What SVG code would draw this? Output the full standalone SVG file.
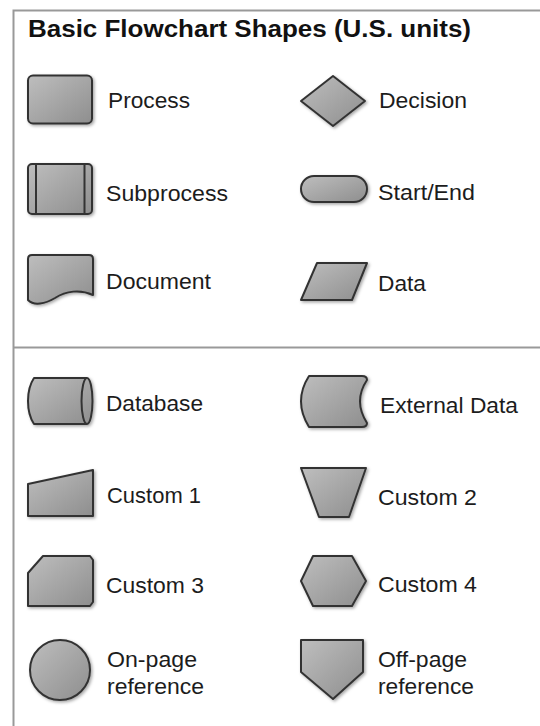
<svg xmlns="http://www.w3.org/2000/svg" width="540" height="726" viewBox="0 0 540 726">
<defs>
<linearGradient id="g" x1="0" y1="0" x2="1" y2="1">
<stop offset="0" stop-color="#bebebe"/>
<stop offset="1" stop-color="#8e8e8e"/>
</linearGradient>
<filter id="sh" x="-20%" y="-20%" width="150%" height="150%">
<feDropShadow dx="1.5" dy="1.5" stdDeviation="1.5" flood-color="#000" flood-opacity="0.35"/>
</filter>
<style>
.s{fill:url(#g);stroke:#333;stroke-width:2;stroke-linejoin:round;filter:url(#sh)}
.l{fill:none;stroke:#333;stroke-width:2}
.t{font-family:"Liberation Sans",Arial,sans-serif;font-size:22px;fill:#1c1c1c}
.h{font-family:"Liberation Sans",Arial,sans-serif;font-size:23.5px;font-weight:bold;fill:#111}
.f{stroke:#999;stroke-width:2;fill:none}
</style>
</defs>
<rect width="540" height="726" fill="#fff"/>
<g id="frame">
<path class="f" d="M13.5,726 V10.5 H540"/>
<path class="f" d="M13.5,347.5 H540"/>
</g>
<text class="h" x="28" y="36.5" textLength="443" lengthAdjust="spacingAndGlyphs">Basic Flowchart Shapes (U.S. units)</text>
<g id="process">
<rect class="s" x="28" y="75.5" width="64" height="48" rx="5"/>
<text class="t" x="108" y="108" textLength="82" lengthAdjust="spacingAndGlyphs">Process</text>
</g>
<g id="decision">
<polygon class="s" points="301,101 333,76 365,101 333,126"/>
<text class="t" x="379" y="108" textLength="88" lengthAdjust="spacingAndGlyphs">Decision</text>
</g>
<g id="subprocess">
<rect class="s" x="28" y="164" width="64" height="50" rx="4"/>
<path class="l" d="M36,164 V214 M84.5,164 V214"/>
<text class="t" x="106" y="201" textLength="122" lengthAdjust="spacingAndGlyphs">Subprocess</text>
</g>
<g id="startend">
<rect class="s" x="301" y="176" width="66" height="26" rx="13"/>
<text class="t" x="378" y="200" textLength="97" lengthAdjust="spacingAndGlyphs">Start/End</text>
</g>
<g id="document">
<path class="s" d="M32,255 H89 Q93,255 93,259 V295 C80,289 66,291 55,298 C45,304 34,306 28,300 V259 Q28,255 32,255 Z"/>
<text class="t" x="106" y="289" textLength="105" lengthAdjust="spacingAndGlyphs">Document</text>
</g>
<g id="data">
<polygon class="s" points="317,263 367,263 352,300 301,300"/>
<text class="t" x="378" y="291" textLength="48" lengthAdjust="spacingAndGlyphs">Data</text>
</g>
<g id="database">
<path class="s" d="M34,378 H87 A5.5,23 0 0 1 87,424 H34 C30,418 28,410 28,401 C28,392 30,384 34,378 Z"/>
<path class="l" d="M87,378 A5.5,23 0 0 0 87,424"/>
<text class="t" x="106" y="411" textLength="97" lengthAdjust="spacingAndGlyphs">Database</text>
</g>
<g id="externaldata">
<path class="s" d="M309,376 H362 Q367,376 367,380 Q353,401 367,423 Q367,427 362,427 H309 Q293,401 309,376 Z"/>
<text class="t" x="380" y="413" textLength="138" lengthAdjust="spacingAndGlyphs">External Data</text>
</g>
<g id="custom1">
<polygon class="s" points="28,484 93,470 93,516 28,516"/>
<text class="t" x="107" y="502.5" textLength="94" lengthAdjust="spacingAndGlyphs">Custom 1</text>
</g>
<g id="custom2">
<polygon class="s" points="301,468 366,468 349,517 319,517"/>
<text class="t" x="378" y="505" textLength="99" lengthAdjust="spacingAndGlyphs">Custom 2</text>
</g>
<g id="custom3">
<polygon class="s" points="43,556 90,556 93,560 93,602 90,606 28,606 28,573"/>
<text class="t" x="106" y="593" textLength="98" lengthAdjust="spacingAndGlyphs">Custom 3</text>
</g>
<g id="custom4">
<polygon class="s" points="301,581 313,556 352,556 366,581 352,606 313,606"/>
<text class="t" x="378" y="592" textLength="99" lengthAdjust="spacingAndGlyphs">Custom 4</text>
</g>
<g id="onpage">
<circle class="s" cx="60" cy="670" r="30"/>
<text class="t" x="107" y="666.5" textLength="90" lengthAdjust="spacingAndGlyphs">On-page</text>
<text class="t" x="107" y="693.5" textLength="97" lengthAdjust="spacingAndGlyphs">reference</text>
</g>
<g id="offpage">
<polygon class="s" points="301,640 363,640 363,672 333,699 301,672"/>
<text class="t" x="378" y="666.5" textLength="89" lengthAdjust="spacingAndGlyphs">Off-page</text>
<text class="t" x="378" y="693.5" textLength="96" lengthAdjust="spacingAndGlyphs">reference</text>
</g>
</svg>
